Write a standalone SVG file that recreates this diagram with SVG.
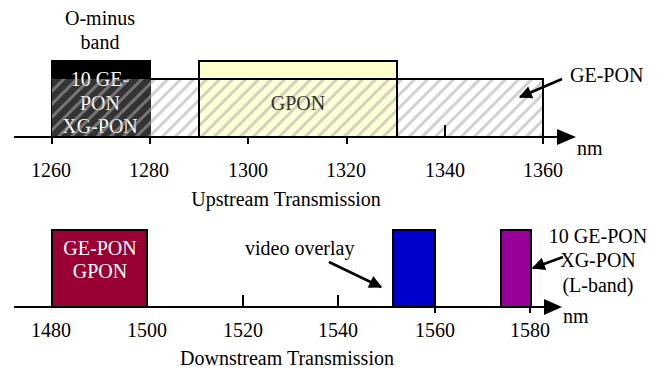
<svg xmlns="http://www.w3.org/2000/svg" width="665" height="372" viewBox="0 0 665 372">
<defs>
<style>
text{font-family:"Liberation Serif","Times New Roman",serif;font-size:20px;fill:#000}
.c{text-anchor:middle}
.w{fill:#fff}
.ax{stroke:#000;stroke-width:2;fill:none}
.box{stroke:#000;stroke-width:2}
.lead{stroke:#000;stroke-width:2.5;fill:none;marker-end:url(#ah)}
</style>
<pattern id="hatch" width="13" height="13" patternUnits="userSpaceOnUse">
<rect width="13" height="13" fill="#fff" fill-opacity="0.2"/>
<path d="M-2,2 L2,-2 M0,13 L13,0 M11,15 L15,11" stroke="#aaa" stroke-opacity="0.55" stroke-width="3"/>
</pattern>
<marker id="ah" viewBox="0 0 10 10" refX="9" refY="5" markerWidth="17" markerHeight="13" markerUnits="userSpaceOnUse" orient="auto">
<path d="M0,0 L10,5 L0,10 z" fill="#000"/>
</marker>
</defs>
<rect width="665" height="372" fill="#fff"/>

<!-- Upstream -->
<g id="o-minus-band">
<rect class="box" x="52" y="61" width="98" height="76" fill="#000"/>
<text class="c w" x="100" y="86">10 GE-</text>
<text class="c w" x="100" y="110">PON</text>
<text class="c w" x="100" y="133">XG-PON</text>
<text class="c" x="100" y="25">O-minus</text>
<text class="c" x="100" y="49">band</text>
</g>
<g id="gpon-up">
<rect class="box" x="199" y="61" width="198" height="76" fill="#ffffcc"/>
</g>
<g id="ge-pon-up">
<rect x="52" y="79" width="491" height="58" fill="url(#hatch)"/>
<path class="ax" d="M150,79 H543 V137"/>
<line class="ax" x1="199" y1="79" x2="199" y2="137"/>
<line class="ax" x1="397" y1="79" x2="397" y2="137"/>
<text class="c" x="298" y="110" style="fill:#333">GPON</text>
<text x="570" y="82">GE-PON</text>
</g>
<g id="upstream-axis">
<line class="ax" x1="14" y1="137" x2="560" y2="137"/>
<polygon points="576,137 557,129 557,145" fill="#000"/>
<path class="ax" d="M52,137 V144 M150,137 V144 M248,137 V144 M347,137 V144 M445,125 V137 M543,137 V144"/>
<text class="c" x="51" y="177">1260</text>
<text class="c" x="149" y="177">1280</text>
<text class="c" x="248" y="177">1300</text>
<text class="c" x="346" y="177">1320</text>
<text class="c" x="445" y="177">1340</text>
<text class="c" x="543" y="177">1360</text>
<text x="577" y="155">nm</text>
<text class="c" x="286" y="206">Upstream Transmission</text>
</g>

<!-- Downstream -->
<g id="ge-pon-gpon-down">
<rect class="box" x="52" y="230" width="95" height="77" fill="#990033"/>
<text class="c w" x="100" y="255">GE-PON</text>
<text class="c w" x="100" y="278">GPON</text>
</g>
<g id="video-overlay">
<rect class="box" x="393" y="230" width="42" height="77" fill="#0000cc"/>
<text x="245" y="255">video overlay</text>
</g>
<g id="l-band">
<rect class="box" x="501" y="230" width="30" height="77" fill="#990099"/>
<text class="c" x="598" y="243">10 GE-PON</text>
<text class="c" x="598" y="267">XG-PON</text>
<text class="c" x="598" y="292">(L-band)</text>
</g>
<g id="downstream-axis">
<line class="ax" x1="14" y1="307" x2="546" y2="307"/>
<polygon points="562,307 544,299 544,315" fill="#000"/>
<path class="ax" d="M52,295 V307 M243,295 V307 M338,295 V307 M435,307 V313 M530,307 V313"/>
<text class="c" x="51" y="337">1480</text>
<text class="c" x="147" y="337">1500</text>
<text class="c" x="243" y="337">1520</text>
<text class="c" x="338" y="337">1540</text>
<text class="c" x="435" y="337">1560</text>
<text class="c" x="530" y="337">1580</text>
<text x="563" y="323">nm</text>
<text class="c" x="287" y="365">Downstream Transmission</text>
</g>

<g id="connectors">
<line class="lead" x1="562" y1="79" x2="520" y2="97"/>
<line class="lead" x1="329" y1="262" x2="381" y2="287"/>
<line class="lead" x1="563" y1="257" x2="533" y2="268"/>
</g>
</svg>
